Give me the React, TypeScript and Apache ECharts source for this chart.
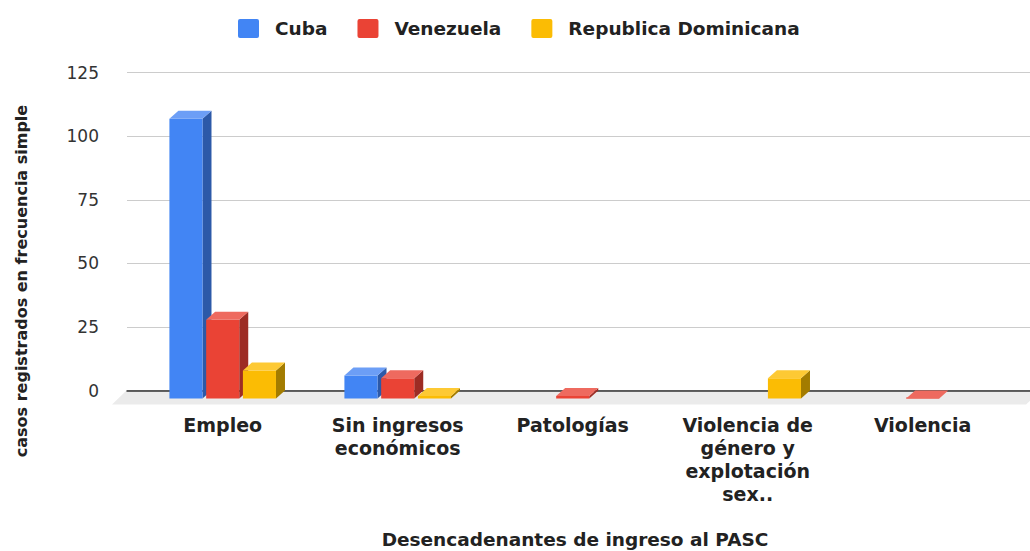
import React, { useEffect, useRef } from "react";
import * as echarts from "echarts";

const categories = [
  "Empleo",
  "Sin ingresos económicos",
  "Patologías",
  "Violencia de género y explotación sex..",
  "Violencia",
];
const categoryLabels = [
  "Empleo",
  "Sin ingresos\neconómicos",
  "Patologías",
  "Violencia de\ngénero y\nexplotación\nsex..",
  "Violencia",
];
const seriesNames = ["Cuba", "Venezuela", "Republica Dominicana"];
const cuba: (number | null)[] = [110, 9, null, null, null];
const venezuela: (number | null)[] = [31, 8, 1, null, 0];
const dominicana: (number | null)[] = [11, 1, null, 8, null];
const yTicks = [0, 25, 50, 75, 100, 125];

const palette = [
  { front: "#4285f4", top: "#6c9ef6", side: "#2c59a8" },
  { front: "#ea4335", top: "#ee6a5f", side: "#9d2c24" },
  { front: "#fbbc04", top: "#fdc934", side: "#a37c00" },
];

const FONT = "DejaVu Sans";

export default function App() {
  const ref = useRef<HTMLDivElement>(null);
  useEffect(() => {
    document.body.style.margin = "0";
    const chart = echarts.init(ref.current!, null, { renderer: "svg" });
    const allSeries = [cuba, venezuela, dominicana];
    const DX = 9;
    const DY = 8;
    const renderItem = (params: any, api: any) => {
      const ci = api.value(0);
      const v = api.value(1);
      const base = api.coord([ci, 0]);
      const top = api.coord([ci, v]);
      const band = api.size([1, 0])[0];
      const pitch = band * 0.21;
      const w = band * 0.189;
      const s = params.seriesIndex;
      const col = palette[s];
      const xf = base[0] + (s - 1) * pitch - w / 2;
      const yb = base[1];
      const yt = top[1];
      const h = Math.max(yb - yt, 1);
      return {
        type: "group",
        children: [
          {
            type: "polygon",
            shape: {
              points: [
                [xf + w, yt + DY],
                [xf + w + DX, yt],
                [xf + w + DX, yb],
                [xf + w, yb + DY],
              ],
            },
            style: { fill: col.side },
          },
          {
            type: "rect",
            shape: { x: xf, y: yb + DY - h, width: w, height: h },
            style: { fill: col.front },
          },
          {
            type: "polygon",
            shape: {
              points: [
                [xf, yt + DY],
                [xf + DX, yt],
                [xf + w + DX, yt],
                [xf + w, yt + DY],
              ],
            },
            style: { fill: col.top },
          },
        ],
      };
    };

    const series = allSeries.map((arr, s) => ({
      name: seriesNames[s],
      type: "custom",
      xAxisIndex: 1,
      yAxisIndex: 1,
      itemStyle: { color: palette[s].front },
      renderItem,
      data: arr
        .map((v, i) => (v === null ? null : [i, v]))
        .filter((d) => d !== null),
      z: 5,
    }));

    chart.setOption({
      animation: false,
      textStyle: { fontFamily: FONT },
      legend: {
        data: seriesNames,
        top: 19,
        left: 238,
        padding: 0,
        itemWidth: 21,
        itemHeight: 19,
        itemGap: 30,
        icon: "path://M2,0H19Q21,0 21,2V17Q21,19 19,19H2Q0,19 0,17V2Q0,0 2,0Z",
        textStyle: {
          fontFamily: FONT,
          fontWeight: "bold",
          fontSize: 18.5,
          color: "#222",
          padding: [0, 0, 0, 11],
        },
      },
      grid: [
        { left: 127, right: 0, top: 72.7, bottom: 160.5 },
        { left: 135.2, width: 875, top: 72.7, bottom: 160.5 },
      ],
      xAxis: [
        {
          type: "value",
          gridIndex: 0,
          min: 0,
          max: 1,
          axisLine: { show: true, lineStyle: { color: "#333", width: 1.5 } },
          axisTick: { show: false },
          axisLabel: { show: false },
          splitLine: { show: false },
        },
        {
          type: "category",
          gridIndex: 1,
          data: categories,
          axisLine: { show: false },
          axisTick: { show: false },
          splitLine: { show: false },
          axisLabel: {
            interval: 0,
            margin: 23,
            fontFamily: FONT,
            fontWeight: "bold",
            fontSize: 19,
            lineHeight: 23,
            color: "#222",
            formatter: (_v: string, idx: number) => categoryLabels[idx],
          },
        },
      ],
      yAxis: [
        {
          type: "value",
          gridIndex: 0,
          min: yTicks[0],
          max: yTicks[yTicks.length - 1],
          interval: 25,
          axisLine: { show: false },
          axisTick: { show: false },
          axisLabel: {
            margin: 28,
            fontFamily: FONT,
            fontSize: 17,
            color: "#333",
          },
          splitLine: { lineStyle: { color: "#cccccc", width: 1 } },
        },
        {
          type: "value",
          gridIndex: 1,
          min: yTicks[0],
          max: yTicks[yTicks.length - 1],
          interval: 25,
          show: false,
          splitLine: { show: false },
        },
      ],
      graphic: [
        {
          type: "polygon",
          z: -10,
          shape: {
            points: [
              [126, 391],
              [1040, 391],
              [1026, 404.5],
              [112, 404.5],
            ],
          },
          style: { fill: "#ebebeb" },
        },
        {
          type: "text",
          x: 21,
          y: 281,
          rotation: Math.PI / 2,
          style: {
            text: "casos registrados en frecuencia simple",
            fontFamily: FONT,
            fontWeight: "bold",
            fontSize: 16,
            fill: "#222",
            textAlign: "center",
            textVerticalAlign: "middle",
          },
        },
        {
          type: "text",
          x: 575,
          y: 539,
          style: {
            text: "Desencadenantes de ingreso al PASC",
            fontFamily: FONT,
            fontWeight: "bold",
            fontSize: 18.5,
            fill: "#222",
            textAlign: "center",
            textVerticalAlign: "middle",
          },
        },
      ],
      series,
    });
    return () => chart.dispose();
  }, []);
  return <div ref={ref} style={{ width: 1030, height: 551 }} />;
}
